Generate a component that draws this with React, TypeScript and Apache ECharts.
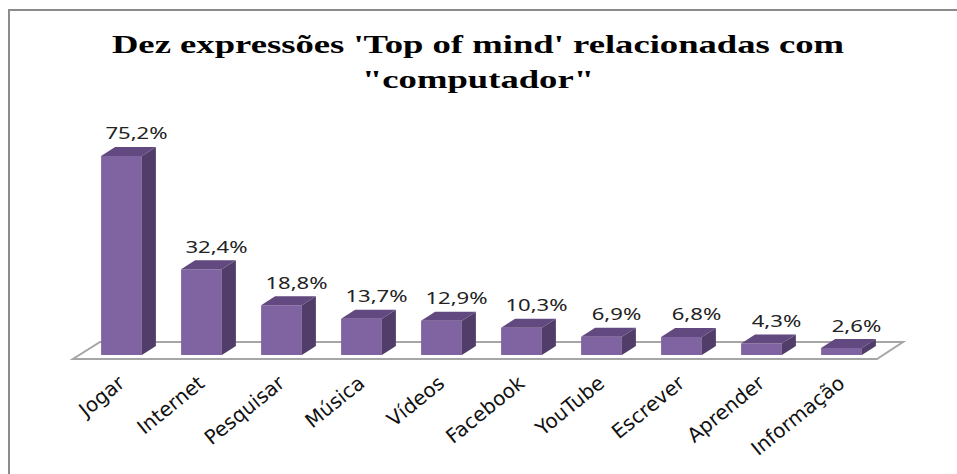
import React, { useEffect, useRef } from "react";
import * as echarts from "echarts";

const categories = ["Jogar", "Internet", "Pesquisar", "Música", "Vídeos", "Facebook", "YouTube", "Escrever", "Aprender", "Informação"];
const values = [75.2, 32.4, 18.8, 13.7, 12.9, 10.3, 6.9, 6.8, 4.3, 2.6];
const titleLines = ["Dez expressões 'Top of mind' relacionadas com", "\"computador\""];

const FRONT = "#8064a2";
const TOP = "#62497f";
const SIDE = "#503e69";
const DX = 14;
const DY = -9;

function fmt(v: number) {
  return v.toFixed(1).replace(".", ",") + "%";
}

export default function App() {
  const ref = useRef<HTMLDivElement>(null);
  useEffect(() => {
    if (!ref.current) return;
    const chart = echarts.init(ref.current, null, { renderer: "svg" });
    const titleStyle = {
      fontFamily: "Liberation Serif",
      fontWeight: "bold",
      fontSize: 26,
      fill: "#000",
      align: "center",
      verticalAlign: "middle",
    };
    const option: any = {
      animation: false,
      backgroundColor: "#ffffff",
      grid: { left: 81.5, right: 957 - 881.5, top: 143.3, bottom: 119, containLabel: false },
      xAxis: {
        type: "category",
        data: categories,
        axisLine: { show: false },
        axisTick: { show: false },
        axisLabel: {
          rotate: 39,
          margin: 25,
          interval: 0,
          fontFamily: "DejaVu Sans",
          fontSize: 20,
          color: "#111",
        },
      },
      yAxis: { type: "value", min: 0, max: 80, show: false, splitLine: { show: false } },
      graphic: [
        {
          type: "rect",
          z: 0,
          silent: true,
          shape: { x: 9, y: 10, width: 1000, height: 500 },
          style: { fill: "none", stroke: "#8c8c8c", lineWidth: 2 },
        },
        {
          type: "polygon",
          z: 0,
          silent: true,
          shape: { points: [[73, 359], [877, 359], [903, 342], [100, 342]] },
          style: { fill: "none", stroke: "#a6a6a6", lineWidth: 2 },
        },
        {
          type: "text",
          z: 10,
          x: 478,
          y: 44,
          scaleX: 1.41,
          style: { ...titleStyle, text: titleLines[0] },
        },
        {
          type: "text",
          z: 10,
          x: 478,
          y: 79,
          scaleX: 1.41,
          style: { ...titleStyle, text: titleLines[1] },
        },
      ],
      series: [
        {
          type: "custom",
          data: values.map((v, i) => [i, v]),
          encode: { x: 0, y: 1 },
          renderItem: (params: any, api: any) => {
            const idx = api.value(0);
            const v = api.value(1);
            const top = api.coord([idx, v]);
            const bot = api.coord([idx, 0]);
            const bw = api.size([1, 0])[0] * 0.51;
            const x0 = top[0] - bw / 2;
            const x1 = top[0] + bw / 2;
            const yt = top[1];
            const yb = bot[1];
            return {
              type: "group",
              children: [
                {
                  type: "polygon",
                  shape: { points: [[x0, yb], [x1, yb], [x1, yt], [x0, yt]] },
                  style: { fill: FRONT },
                },
                {
                  type: "polygon",
                  shape: { points: [[x1, yb], [x1 + DX, yb + DY], [x1 + DX, yt + DY], [x1, yt]] },
                  style: { fill: SIDE },
                },
                {
                  type: "polygon",
                  shape: { points: [[x0, yt], [x1, yt], [x1 + DX, yt + DY], [x0 + DX, yt + DY]] },
                  style: { fill: TOP },
                },
                {
                  type: "text",
                  x: top[0] + 15,
                  y: yt + DY - 14,
                  scaleX: 1.3,
                  style: {
                    text: fmt(v),
                    fontFamily: "Noto Sans",
                    fontSize: 17,
                    fill: "#222",
                    align: "center",
                    verticalAlign: "middle",
                  },
                },
              ],
            };
          },
        },
      ],
    };
    chart.setOption(option);
    return () => chart.dispose();
  }, []);
  return (
    <div
      ref={ref}
      style={{ position: "absolute", left: 0, top: 0, width: 957, height: 474 }}
    />
  );
}
